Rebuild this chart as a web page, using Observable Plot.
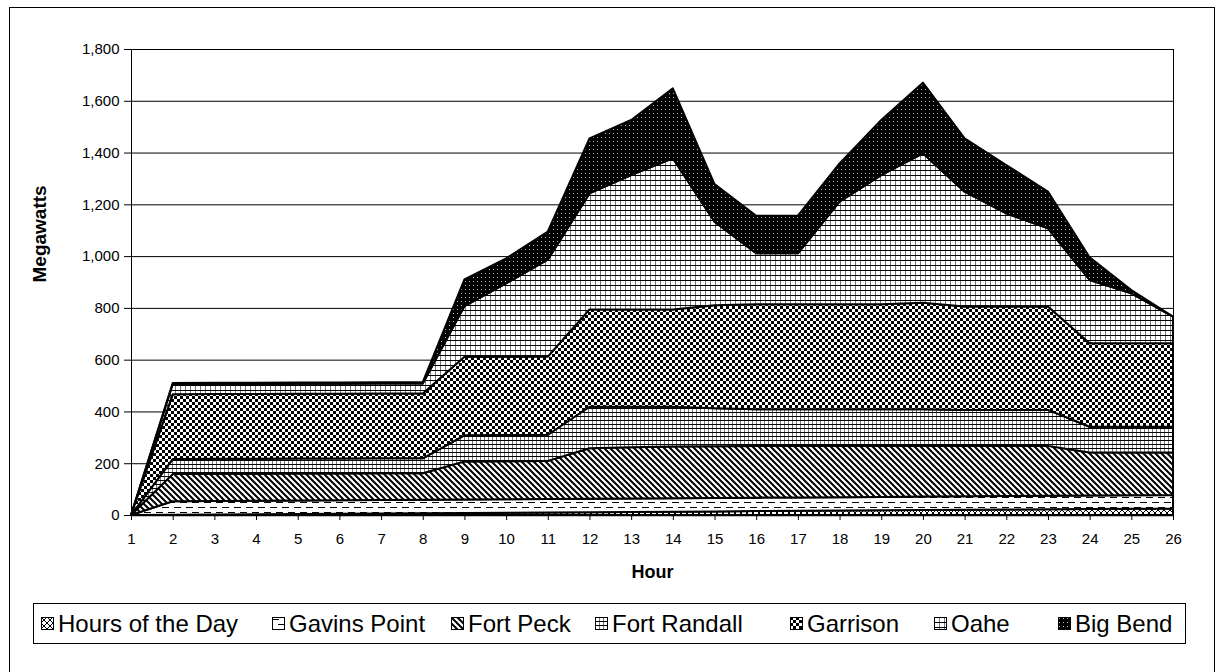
<!DOCTYPE html>
<html><head><meta charset="utf-8">
<script src="https://cdn.jsdelivr.net/npm/d3@7"></script>
<script src="https://cdn.jsdelivr.net/npm/@observablehq/plot@0.6"></script>
<style>
body{margin:0;background:#fff;font-family:"Liberation Sans",Arial,sans-serif;}
#wrap{position:relative;width:1220px;height:672px;overflow:hidden;background:#fff}
#frame{position:absolute;left:9px;top:7px;width:1206px;height:700px;border:1px solid #000;box-sizing:border-box}
#chart{position:absolute;left:0;top:0}
#legend{position:absolute;left:33px;top:603px;width:1153px;height:41px;border:1px solid #000;box-sizing:border-box;background:#fff}
.item{position:absolute;top:0;height:100%;display:flex;align-items:center;font-size:24px;color:#000;white-space:nowrap}
.item svg{margin-right:4px}
</style></head><body>
<div id="wrap"><div id="frame"></div><div id="chart"></div><div id="legend"></div></div>
<script>
const hours = [1,2,3,4,5,6,7,8,9,10,11,12,13,14,15,16,17,18,19,20,21,22,23,24,25,26];
const seriesNames = ["Hours of the Day","Gavins Point","Fort Peck","Fort Randall","Garrison","Oahe","Big Bend"];
const hoursOfDay  = [0,1,2,3,4,5,6,7,8,9,10,11,12,13,14,15,16,17,18,19,20,21,22,23,24,25];
const gavinsPoint = [0,52,52,52,52,52,52,52,52,52,52,52,52,52,52,52,52,52,52,52,52,52,52,52,52,52];
const fortPeck    = [0,105,105,104,104,103,103,102,147,147,147,195,198,200,200,200,199,198,197,196,195,194,193,166,165,164];
const fortRandall = [0,58,58,58,58,58,58,58,101,101,101,160,156,153,146,141,141,141,141,141,139,139,139,100,100,100];
const garrison    = [0,250,250,250,250,250,250,250,303,302,302,376,376,376,398,406,406,406,406,412,399,399,399,322,322,322];
const oahe        = [0,39,39,39,39,39,39,39,196,284,374,448,519,584,323,197,197,396,499,577,444,360,302,245,193,103];
const bigBend     = [0,5,5,5,5,5,5,5,103,96,109,213,213,270,145,145,145,148,213,273,206,187,142,87,13,0];
const yTicks = [0,200,400,600,800,1000,1200,1400,1600,1800];
const patternIds = ["pHours","pGavins","pPeck","pRandall","pGarrison","pOahe","pBig"];

const seriesValues = [hoursOfDay, gavinsPoint, fortPeck, fortRandall, garrison, oahe, bigBend];
const rows = [];
seriesNames.forEach((name, i) => {
  hours.forEach((h, j) => rows.push({series: name, hour: h, value: seriesValues[i][j]}));
});

const defs = `
<pattern id="pHours" patternUnits="userSpaceOnUse" width="6" height="6"><rect width="6" height="6" fill="#fff"/><path d="M0,0L6,6M6,0L0,6" stroke="#000" stroke-width="1"/></pattern>
<pattern id="pGavins" patternUnits="userSpaceOnUse" width="12" height="10"><rect width="12" height="10" fill="#fff"/><rect x="0" y="2" width="7" height="1" fill="#000"/><rect x="6" y="7" width="6" height="1" fill="#000"/><rect x="0" y="7" width="1" height="1" fill="#000"/></pattern>
<pattern id="pPeck" patternUnits="userSpaceOnUse" width="6" height="6"><rect width="6" height="6" fill="#fff"/><path d="M-1,-1L7,7M-1,5L1,7M5,-1L7,1" stroke="#000" stroke-width="2"/></pattern>
<pattern id="pRandall" patternUnits="userSpaceOnUse" width="4" height="4"><rect width="4" height="4" fill="#fff"/><rect x="0" y="0" width="1" height="4" fill="#777"/><rect x="0" y="0" width="4" height="1" fill="#000"/></pattern>
<pattern id="pGarrison" patternUnits="userSpaceOnUse" width="6" height="6"><rect width="6" height="6" fill="#fff"/><rect x="0" y="0" width="3" height="3" fill="#000"/><rect x="3" y="3" width="3" height="3" fill="#000"/></pattern>
<pattern id="pOahe" patternUnits="userSpaceOnUse" width="5" height="5"><rect width="5" height="5" fill="#fff"/><rect x="0" y="0" width="1" height="5" fill="#777"/><rect x="0" y="0" width="5" height="1" fill="#000"/></pattern>
<pattern id="pBig" patternUnits="userSpaceOnUse" width="4" height="4"><rect width="4" height="4" fill="#000"/><rect x="1" y="1" width="1" height="1" fill="#bbb"/></pattern>`;

const chart = Plot.plot({
  width: 1220, height: 600,
  marginLeft: 131, marginRight: 47, marginTop: 49, marginBottom: 85,
  style: {fontFamily: "Liberation Sans, Arial, sans-serif", fontSize: "15px", background: "transparent", color: "#000"},
  x: {domain: [1, 26]},
  y: {domain: [0, 1800]},
  color: {type: "ordinal", domain: seriesNames, range: patternIds.map(id => `url(#${id})`)},
  marks: [
    Plot.gridY(yTicks, {stroke: "#000", strokeOpacity: 1, strokeWidth: 1}),
    Plot.areaY(rows, {x: "hour", y: "value", z: "series", fill: "series", stroke: "#000", strokeWidth: 2, strokeLinejoin: "round"}),
    Plot.ruleX([1, 26], {stroke: "#000", strokeWidth: 1}),
    Plot.ruleY([0], {stroke: "#000", strokeWidth: 1.5}),
    Plot.axisY(yTicks, {tickFormat: d3.format(","), tickSize: 7, tickPadding: 5, fontSize: 15, label: null}),
    Plot.axisX(hours, {tickSize: 5, tickPadding: 13, fontSize: 15, label: null, tickFormat: d => String(d)}),
    Plot.text(["Megawatts"], {text: d => d, frameAnchor: "left", dx: -92, rotate: -90, fontWeight: "bold", fontSize: 19}),
    Plot.text(["Hour"], {text: d => d, frameAnchor: "bottom", dy: 62, fontWeight: "bold", fontSize: 18})
  ]
});
const defsEl = document.createElementNS("http://www.w3.org/2000/svg", "defs");
defsEl.innerHTML = defs;
chart.prepend(defsEl);
document.getElementById("chart").appendChild(chart);

const legendText = [57, 288, 467, 611, 806, 950, 1074];
const legend = document.getElementById("legend");
seriesNames.forEach((name, i) => {
  const item = document.createElement("div");
  item.className = "item";
  item.style.left = (legendText[i] - 33 - 17) + "px";
  item.innerHTML = `<svg width="13" height="13"><rect x="0.5" y="0.5" width="12" height="12" fill="url(#${patternIds[i]})" stroke="#000" stroke-width="1"/></svg><span>${name}</span>`;
  legend.appendChild(item);
});
</script>
</body></html>
